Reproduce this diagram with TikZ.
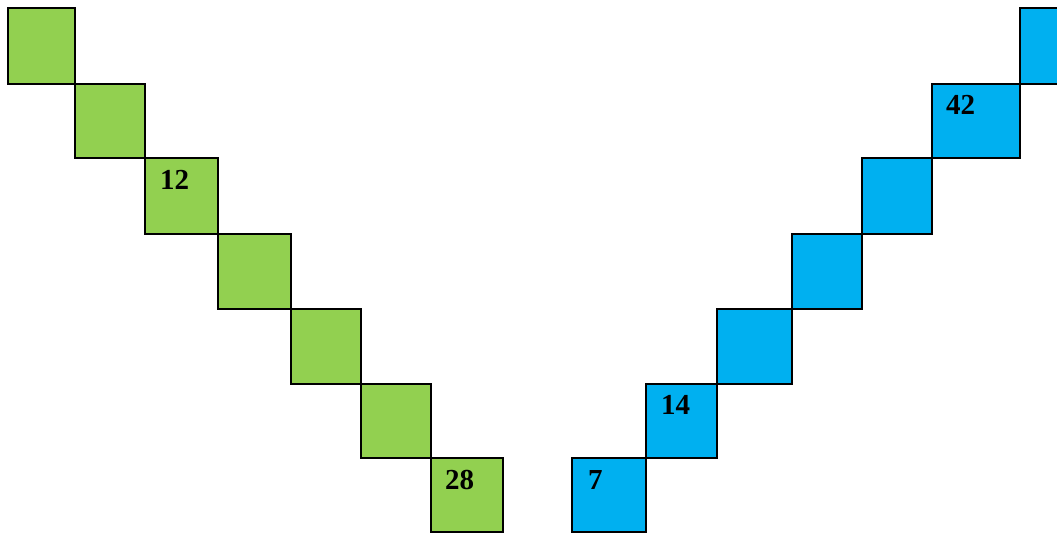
\documentclass[tikz,border=0pt]{standalone}
\usepackage{fontspec}
\setmainfont{Liberation Serif}
\definecolor{gr}{HTML}{92D050}
\definecolor{bl}{HTML}{00B0F0}
\begin{document}
\begin{tikzpicture}[x=1pt,y=-1pt,
  cell/.style={draw=black,line width=2pt},
  lab/.style={anchor=base west,inner sep=0pt,font=\fontsize{29}{29}\selectfont\bfseries}]
\clip (0,0) rectangle (1057,533);
\useasboundingbox (0,0) rectangle (1057,533);
% green
\filldraw[cell,fill=gr] (8,8) rectangle (75,84);
\filldraw[cell,fill=gr] (75,84) rectangle (145,158);
\filldraw[cell,fill=gr] (145,158) rectangle (218,234);
\filldraw[cell,fill=gr] (218,234) rectangle (291,309);
\filldraw[cell,fill=gr] (291,309) rectangle (361,384);
\filldraw[cell,fill=gr] (361,384) rectangle (431,458);
\filldraw[cell,fill=gr] (431,458) rectangle (503,532);
% blue
\filldraw[cell,fill=bl] (572,458) rectangle (646,532);
\filldraw[cell,fill=bl] (646,384) rectangle (717,458);
\filldraw[cell,fill=bl] (717,309) rectangle (792,384);
\filldraw[cell,fill=bl] (792,234) rectangle (862,309);
\filldraw[cell,fill=bl] (862,158) rectangle (932,234);
\filldraw[cell,fill=bl] (932,84) rectangle (1020,158);
\filldraw[cell,fill=bl] (1020,8) rectangle (1070,84);
% labels
\node[lab] (l12) at (160,189) {12};
\node[lab] (l28) at (445,489) {28};
\node[lab] (l7) at (588,489) {7};
\node[lab] (l14) at (661,414) {14};
\node[lab] (l42) at (946,114) {42};
\end{tikzpicture}
\end{document}
